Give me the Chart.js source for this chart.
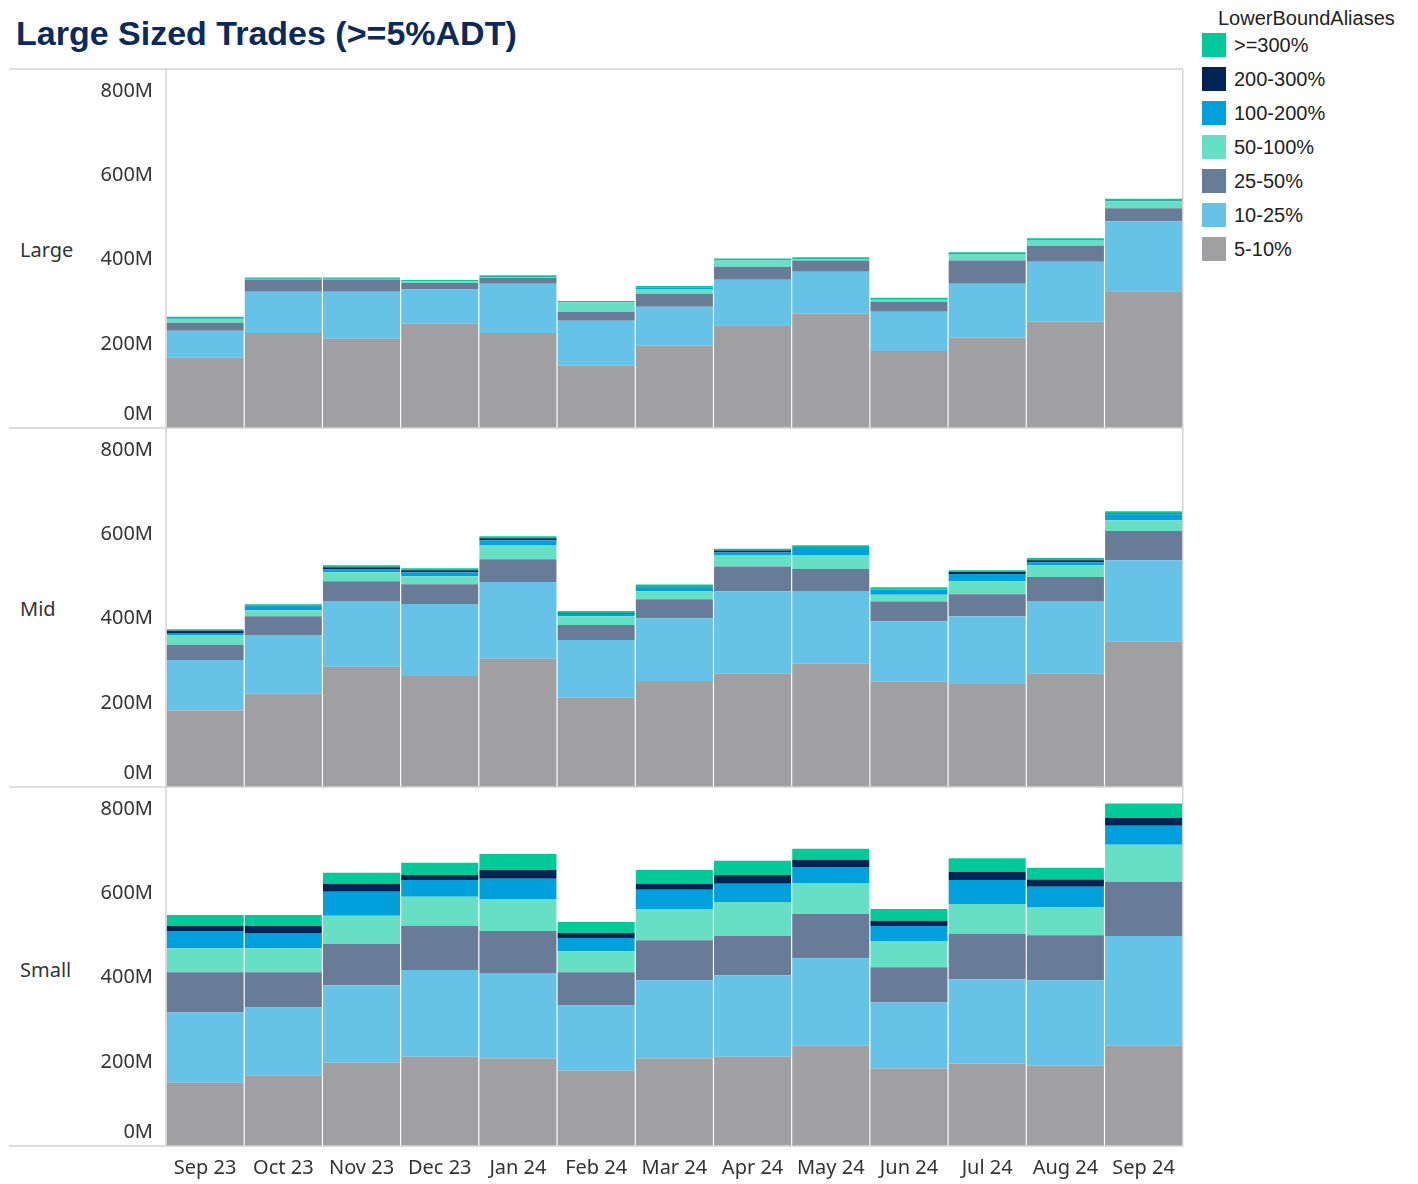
<!DOCTYPE html>
<html>
<head>
<meta charset="utf-8">
<title>Large Sized Trades (>=5%ADT)</title>
<script src="https://cdn.jsdelivr.net/npm/chart.js@4.4.1/dist/chart.umd.min.js"></script>
<style>
  body { margin: 0; background: #fff; width: 1418px; height: 1184px; position: relative; overflow: hidden; }
  .title { position: absolute; left: 16px; top: 13px; font-family: "Liberation Sans", Arial, sans-serif; font-size: 34px; font-weight: bold; color: #0c2a5b; line-height: 40px; white-space: nowrap; }
  .chart-box { position: absolute; left: 9px; top: 68px; width: 1176px; height: 1116px; }
  .row-label { position: absolute; left: 20px; font-family: "Noto Sans", sans-serif; font-size: 20px; color: #333; transform: translateY(-50%); }
  .legend { position: absolute; left: 1202px; top: 0px; font-family: "Liberation Sans", Arial, sans-serif; font-size: 20px; color: #222; }
  .legend-title { margin-left: 16px; height: 28px; line-height: 36px; }
  .legend-item { display: flex; align-items: center; height: 34px; }
  .legend-item span.sw { width: 24px; height: 24px; margin-right: 8px; }
</style>
</head>
<body>
<div class="title">Large Sized Trades (&gt;=5%ADT)</div>
<div class="legend" id="legend"><div class="legend-title">LowerBoundAliases</div></div>
<div class="row-label" style="top:249px">Large</div>
<div class="row-label" style="top:608px">Mid</div>
<div class="row-label" style="top:969px">Small</div>
<div class="chart-box"><canvas id="chart"></canvas></div>
<script>
const months = ['Sep 23', 'Oct 23', 'Nov 23', 'Dec 23', 'Jan 24', 'Feb 24', 'Mar 24', 'Apr 24', 'May 24', 'Jun 24', 'Jul 24', 'Aug 24', 'Sep 24'];
const bands = ['5-10%', '10-25%', '25-50%', '50-100%', '100-200%', '200-300%', '>=300%'];
const yTicks = [0, 200, 400, 600, 800];

// values in millions, bottom band first
const large_5_10    = [167, 226, 212, 248, 226, 148, 196, 244, 272, 183, 215, 253, 325];
const large_10_25   = [64, 98, 112, 81, 117, 107, 92, 108, 99, 93, 128, 142, 166];
const large_25_50   = [19, 29, 29, 16, 14, 21, 31, 31, 27, 24, 55, 38, 31];
const large_50_100  = [9, 1, 1, 3, 1, 22, 10, 15, 3, 5, 14, 12, 17];
const large_100_200 = [1, 0.5, 0.5, 0.5, 0.5, 0.5, 4, 0.5, 0.5, 0.5, 0.5, 0.5, 0.5];
const large_200_300 = [0.3, 0.2, 0.2, 0.2, 0.2, 0.2, 0.5, 0.2, 0.2, 0.2, 0.2, 0.2, 0.3];
const large_300     = [4, 3, 3, 3, 4, 3, 4, 4, 4, 4, 5, 5, 5];

const mid_5_10    = [182, 222, 286, 264, 305, 212, 252, 269, 293, 250, 245, 269, 345];
const mid_10_25   = [120, 139, 156, 171, 182, 137, 149, 196, 173, 144, 161, 173, 194];
const mid_25_50   = [36, 45, 47, 47, 54, 36, 45, 59, 52, 47, 52, 57, 69];
const mid_50_100  = [23, 14, 21, 19, 33, 21, 19, 26, 33, 16, 31, 28, 26];
const mid_100_200 = [5, 9, 7, 9, 12, 5, 9, 7, 19, 12, 17, 7, 14];
const mid_200_300 = [5, 1, 5, 5, 5, 2, 2, 5, 0.5, 0.5, 5, 5, 2];
const mid_300     = [4, 4, 5, 5, 5, 5, 5, 4, 4, 5, 4, 5, 5];

const small_5_10    = [150, 167, 198, 212, 208, 179, 208, 212, 239, 184, 196, 191, 239];
const small_10_25   = [167, 162, 184, 206, 203, 155, 186, 194, 207, 157, 200, 203, 260];
const small_25_50   = [96, 84, 98, 105, 100, 79, 95, 93, 105, 84, 108, 107, 129];
const small_50_100  = [57, 57, 67, 69, 76, 50, 74, 81, 74, 62, 71, 67, 88];
const small_100_200 = [41, 36, 57, 40, 48, 31, 46, 43, 38, 36, 57, 48, 45];
const small_200_300 = [12, 17, 19, 12, 21, 12, 14, 21, 17, 12, 19, 17, 19];
const small_300     = [26, 26, 26, 29, 38, 26, 33, 34, 26, 28, 33, 28, 34];

const bandColors = ['#a0a0a3', '#67c2e8', '#687b97', '#66dfc4', '#00a0dc', '#002555', '#00cb98'];

const panels = [
    { axis: 'yLarge', series: [large_5_10, large_10_25, large_25_50, large_50_100, large_100_200, large_200_300, large_300] },
    { axis: 'yMid', series: [mid_5_10, mid_10_25, mid_25_50, mid_50_100, mid_100_200, mid_200_300, mid_300] },
    { axis: 'ySmall', series: [small_5_10, small_10_25, small_25_50, small_50_100, small_100_200, small_200_300, small_300] },
];

const datasets = [];
panels.forEach((p) => {
    p.series.forEach((data, i) => {
        datasets.push({
            label: bands[i],
            data: data,
            backgroundColor: bandColors[i],
            yAxisID: p.axis,
            stack: 'all',
            borderWidth: 0,
            barPercentage: 1,
            categoryPercentage: 0.985,
        });
    });
});

const tickFont = { family: 'Noto Sans', size: 20, lineHeight: '28px' };

const yAxis = () => ({
    type: 'linear',
    position: 'left',
    stack: 'rows',
    stackWeight: 1,
    stacked: true,
    min: 0,
    max: 853,
    afterBuildTicks: (scale) => { scale.ticks = yTicks.map((v) => ({ value: v })); },
    afterFit: (scale) => {
        scale.width = 157;
        scale.paddingTop = 0;
        scale.paddingBottom = 0;
    },
    grid: { display: false, drawTicks: false },
    border: { display: false },
    ticks: {
        font: tickFont,
        color: '#333',
        padding: 13,
        autoSkip: false,
        // the 0M label sits a half line above the baseline, like in the table frame
        callback: (v) => (v === 0 ? ['0M', ''] : v + 'M'),
    },
});

// panel borders like the table frame in the original
const panelFrame = {
    id: 'panelFrame',
    afterDraw(chart) {
        const ctx = chart.ctx;
        const area = chart.chartArea;
        ctx.save();
        ctx.strokeStyle = '#d2d2d2';
        ctx.lineWidth = 1.5;
        ctx.beginPath();
        panels.forEach((p) => {
            const s = chart.scales[p.axis];
            ctx.moveTo(0, s.top);
            ctx.lineTo(area.right, s.top);
            ctx.moveTo(0, s.bottom);
            ctx.lineTo(area.right, s.bottom);
        });
        ctx.moveTo(area.left, area.top);
        ctx.lineTo(area.left, area.bottom);
        ctx.moveTo(area.right, area.top);
        ctx.lineTo(area.right, area.bottom);
        ctx.stroke();
        ctx.restore();
    },
};

new Chart(document.getElementById('chart'), {
    type: 'bar',
    data: { labels: months, datasets: datasets },
    options: {
        responsive: true,
        maintainAspectRatio: false,
        animation: false,
        layout: { padding: { top: 1, right: 2, bottom: 0, left: 0 } },
        plugins: {
            legend: { display: false },
            tooltip: { enabled: false },
        },
        scales: {
            x: {
                stacked: true,
                grid: { display: false, drawTicks: false },
                border: { display: false },
                afterFit: (scale) => { scale.height = 38; },
                ticks: {
                    font: { family: 'Noto Sans', size: 20 },
                    color: '#333',
                    padding: 10,
                    maxRotation: 0,
                    autoSkip: false,
                },
            },
            ySmall: yAxis(),
            yMid: yAxis(),
            yLarge: yAxis(),
        },
    },
    plugins: [panelFrame],
});

const legend = document.getElementById('legend');
bands.slice().reverse().forEach((b, i) => {
    const item = document.createElement('div');
    item.className = 'legend-item';
    item.innerHTML = `<span class="sw" style="background:${bandColors[bands.length - 1 - i]}"></span>${b}`;
    legend.appendChild(item);
});
</script>
</body>
</html>
